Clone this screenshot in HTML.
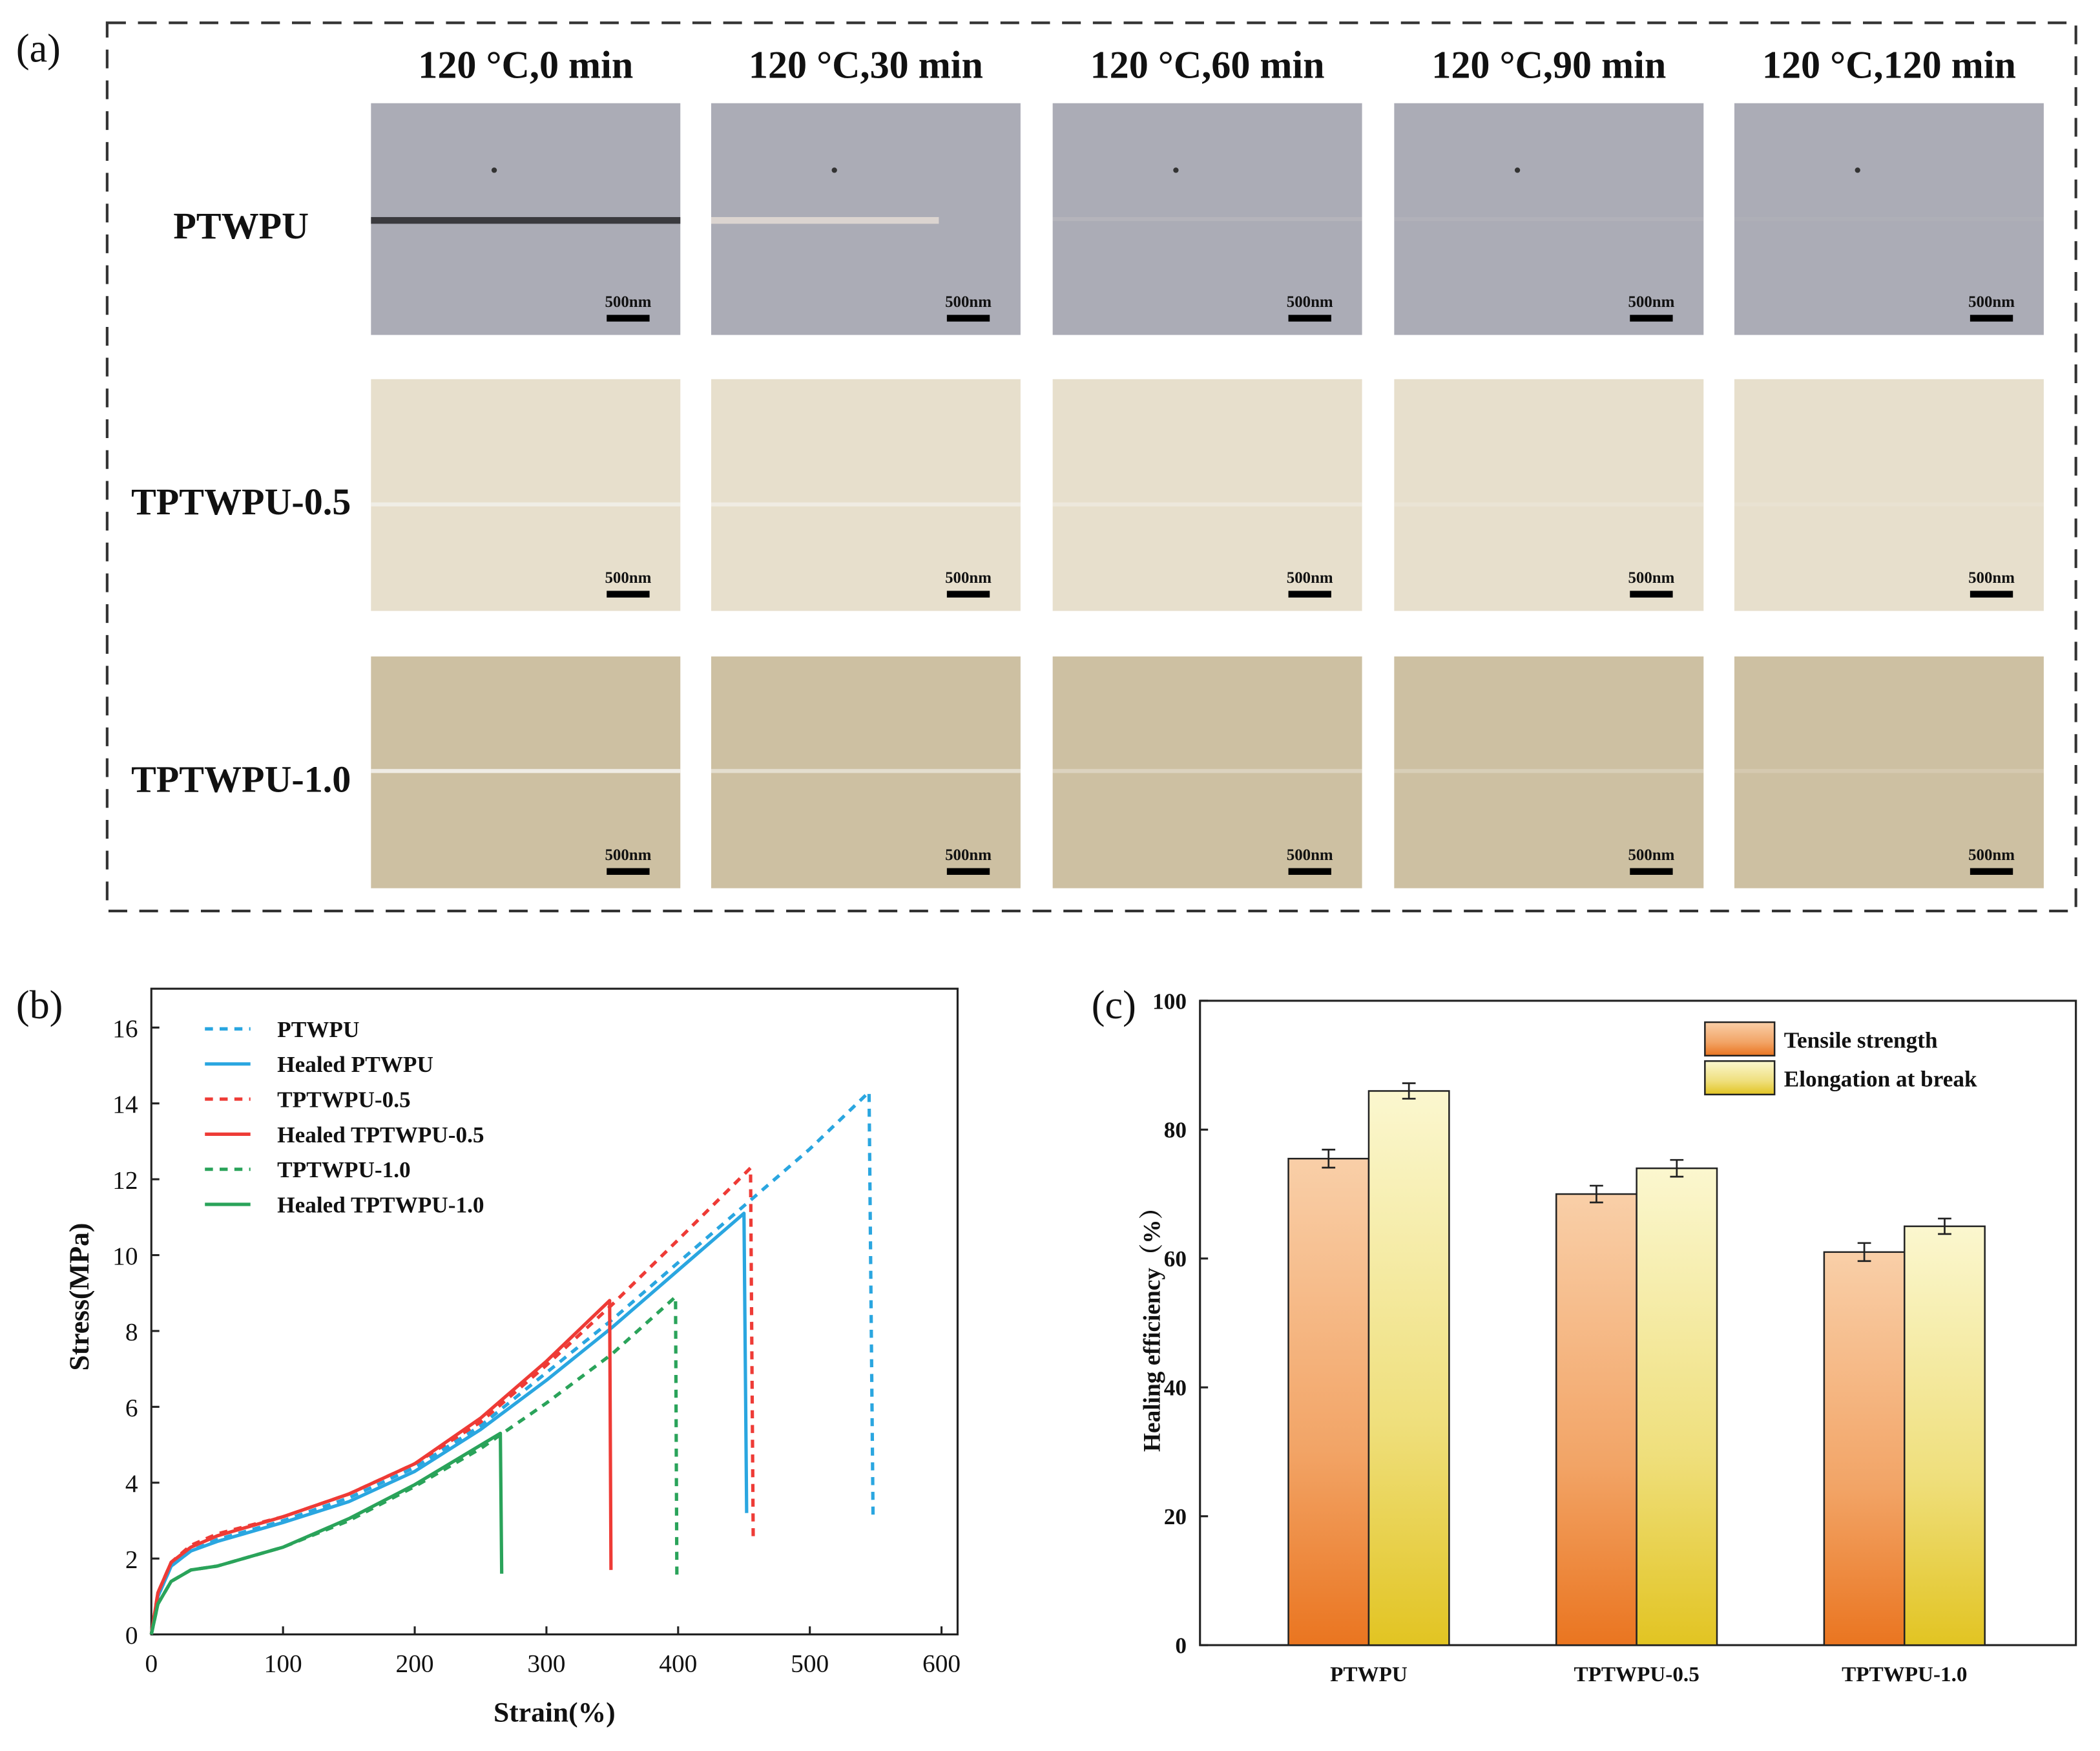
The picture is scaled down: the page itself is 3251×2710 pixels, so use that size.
<!DOCTYPE html>
<html><head><meta charset="utf-8"><style>
html,body{margin:0;padding:0;background:#fff}
svg{display:block}
text{font-family:"Liberation Serif",serif;font-weight:bold;fill:#111}
</style></head><body>
<svg id="fig" width="3251" height="2710" viewBox="0 0 1568 1307" xmlns="http://www.w3.org/2000/svg">
<defs>
<linearGradient id="gOr" x1="0" y1="0" x2="0" y2="1"><stop offset="0" stop-color="#f9cfa8"/><stop offset="0.6" stop-color="#f2a466"/><stop offset="1" stop-color="#ea7520"/></linearGradient>
<linearGradient id="gYe" x1="0" y1="0" x2="0" y2="1"><stop offset="0" stop-color="#fbf7cf"/><stop offset="0.6" stop-color="#efdf7c"/><stop offset="1" stop-color="#e2c422"/></linearGradient>
</defs>
<g id="panelA">
<rect x="80" y="17" width="1470" height="663" fill="none" stroke="#333" stroke-width="2" stroke-dasharray="14,9"/>
<text x="12" y="46" font-size="30" font-weight="normal" style="font-weight:normal">(a)</text>
</g>
<g id="panelB"></g>
<g id="panelC"></g>
</svg>
<script>
const NS="http://www.w3.org/2000/svg";
function mk(parent,tag,attrs,txt){const e=document.createElementNS(NS,tag);for(const k in attrs)e.setAttribute(k,attrs[k]);if(txt!==undefined)e.textContent=txt;parent.appendChild(e);return e;}

// ---------- Panel A ----------
const colHeaders=["120 °C,0 min","120 °C,30 min","120 °C,60 min","120 °C,90 min","120 °C,120 min"];
const rowLabels=["PTWPU","TPTWPU-0.5","TPTWPU-1.0"];
const rowColors=["#abacb6","#e7dfcc","#cdc0a2"];
const crackOpacity=[[1,0.7,0.15,0.1,0.05],[0.8,0.7,0.5,0.3,0.2],[0.9,0.6,0.4,0.3,0.2]];
const pa=document.getElementById('panelA');
const colX=[277,531,786,1041,1295],rowY=[77,283,490],imgW=231,imgH=173;
colHeaders.forEach((h,i)=>{const t=mk(pa,'text',{x:colX[i]+imgW/2,y:58,'font-size':29,'text-anchor':'middle'},h);

});
rowLabels.forEach((r,j)=>{const t=mk(pa,'text',{x:180,y:rowY[j]+101,'font-size':28,'text-anchor':'middle'},r);


colX.forEach((x,i)=>{const g=mk(pa,'g',{});


mk(g,'rect',{x:x,y:rowY[j],width:imgW,height:imgH,fill:rowColors[j]});
const cy=rowY[j]+(j===0?87:(j===1?94:86));
const cc=j===0?(i===0?'#3a3a3e':'#f0e6dc'):'#f3f1ec';
const len=(j===0&&i===1)?170:imgW;
mk(g,'rect',{x:x,y:cy-2,width:len,height:j===0&&i<2?5:3,fill:cc,opacity:crackOpacity[j][i]});
if(j===0){mk(g,'circle',{cx:x+92,cy:rowY[j]+50,r:2,fill:'#333'});}
mk(g,'text',{x:x+192,y:rowY[j]+152,'font-size':12,'text-anchor':'middle'},'500nm');
mk(g,'rect',{x:x+176,y:rowY[j]+158,width:32,height:5,fill:'#000'});
});});

// ---------- Panel B ----------
const xTicksB=[0,100,200,300,400,500,600];
const yTicksB=[0,2,4,6,8,10,12,14,16];
const seriesNames=["PTWPU","Healed PTWPU","TPTWPU-0.5","Healed TPTWPU-0.5","TPTWPU-1.0","Healed TPTWPU-1.0"];
const s1=[[0,0],[5,1.0],[15,1.8],[30,2.2],[50,2.5],[100,3.0],[150,3.6],[200,4.4],[250,5.5],[300,6.9],[350,8.3],[400,9.8],[450,11.3],[500,12.8],[545,14.3],[548,3.0]];
const s2=[[0,0],[5,1.0],[15,1.8],[30,2.2],[50,2.45],[100,2.95],[150,3.5],[200,4.3],[250,5.4],[300,6.7],[350,8.1],[400,9.6],[450,11.1],[452,3.2]];
const s3=[[0,0],[5,1.1],[15,1.9],[30,2.35],[50,2.65],[100,3.1],[150,3.7],[200,4.5],[250,5.6],[300,7.1],[350,8.7],[400,10.4],[455,12.3],[457,2.5]];
const s4=[[0,0],[5,1.1],[15,1.9],[30,2.3],[50,2.6],[100,3.1],[150,3.7],[200,4.5],[250,5.7],[300,7.2],[348,8.8],[349,1.7]];
const s5=[[0,0],[5,0.8],[15,1.4],[30,1.7],[50,1.8],[100,2.3],[150,3.0],[200,3.9],[250,4.9],[300,6.1],[350,7.4],[398,8.9],[399,1.5]];
const s6=[[0,0],[5,0.8],[15,1.4],[30,1.7],[50,1.8],[100,2.3],[150,3.05],[200,3.95],[265,5.3],[266,1.6]];
const seriesData=[s1,s2,s3,s4,s5,s6];
const seriesColor=["#2aa6e0","#2aa6e0","#ee3b36","#ee3b36","#2aa35a","#2aa35a"];
const seriesDash=["6,5","","6,5","","6,5",""];
const pb=document.getElementById('panelB');
const bx0=113,bx1=715,by0=1220,byTop=738;
const xB=v=>bx0+v*(703-113)/600;
const yB=v=>by0-v*(1220-767)/16;
mk(pb,'text',{x:12,y:760,'font-size':30,style:'font-weight:normal'},'(b)');
const frame=mk(pb,'rect',{x:bx0,y:byTop,width:bx1-bx0,height:by0-byTop,fill:'none',stroke:'#222','stroke-width':1.5});


xTicksB.forEach(v=>{mk(pb,'line',{x1:xB(v),x2:xB(v),y1:by0,y2:by0-6,stroke:'#222','stroke-width':1.5});
const t=mk(pb,'text',{x:xB(v),y:by0+28,'font-size':19,'text-anchor':'middle',style:'font-weight:normal'},String(v));

});
yTicksB.forEach(v=>{mk(pb,'line',{x1:bx0,x2:bx0+6,y1:yB(v),y2:yB(v),stroke:'#222','stroke-width':1.5});
const t=mk(pb,'text',{x:bx0-10,y:yB(v)+7,'font-size':19,'text-anchor':'end',style:'font-weight:normal'},String(v));

});
const xt=mk(pb,'text',{x:414,y:1285,'font-size':21,'text-anchor':'middle'},'Strain(%)');


const yt=mk(pb,'text',{x:66,y:968,'font-size':21,'text-anchor':'middle',transform:'rotate(-90 66 968)'},'Stress(MPa)');


seriesData.forEach((d,i)=>{const p=mk(pb,'polyline',{points:d.map(q=>xB(q[0]).toFixed(1)+','+yB(q[1]).toFixed(1)).join(' '),fill:'none',stroke:seriesColor[i],'stroke-width':2.5,'stroke-dasharray':seriesDash[i],'stroke-linejoin':'round'});


const ly=768+i*26.2;
const l=mk(pb,'line',{x1:153,x2:187,y1:ly,y2:ly,stroke:seriesColor[i],'stroke-width':2.5,'stroke-dasharray':seriesDash[i]});


const t=mk(pb,'text',{x:207,y:ly+6,'font-size':17},seriesNames[i]);

});

// ---------- Panel C ----------
const categories=["PTWPU","TPTWPU-0.5","TPTWPU-1.0"];
const tensile=[75.5,70,61];
const elongation=[86,74,65];
const errT=[1.4,1.3,1.4];
const errE=[1.2,1.3,1.2];
const yTicksC=[0,20,40,60,80,100];
const pc=document.getElementById('panelC');
const cx0=896,cx1=1550,cy0=1228,cyTop=747;
const yC=v=>cy0-v*(cy0-cyTop)/100;
const catX=i=>1022+i*200;
const bw=60;
mk(pc,'text',{x:815,y:760,'font-size':30,style:'font-weight:normal'},'(c)');
const fr=mk(pc,'rect',{x:cx0,y:cyTop,width:cx1-cx0,height:cy0-cyTop,fill:'none',stroke:'#222','stroke-width':1.5});


yTicksC.forEach(v=>{mk(pc,'line',{x1:cx0,x2:cx0+6,y1:yC(v),y2:yC(v),stroke:'#222','stroke-width':1.5});
const t=mk(pc,'text',{x:cx0-10,y:yC(v)+6,'font-size':17,'text-anchor':'end'},String(v));

});
const yt2=mk(pc,'text',{x:866,y:988,'font-size':18,'text-anchor':'middle',transform:'rotate(-90 866 988)',style:'font-family:\"Liberation Serif\",\"Noto Serif CJK SC\",serif'},'Healing efficiency（%）');


categories.forEach((c,i)=>{const cx=catX(i);
mk(pc,'line',{x1:cx,x2:cx,y1:cy0,y2:cy0-6,stroke:'#222','stroke-width':1.5});
const t=mk(pc,'text',{x:cx,y:cy0+27,'font-size':16,'text-anchor':'middle'},c);


const b1=mk(pc,'rect',{x:cx-bw,y:yC(tensile[i]),width:bw,height:cy0-yC(tensile[i]),fill:'url(#gOr)',stroke:'#222','stroke-width':1.2});


const b2=mk(pc,'rect',{x:cx,y:yC(elongation[i]),width:bw,height:cy0-yC(elongation[i]),fill:'url(#gYe)',stroke:'#222','stroke-width':1.2});


[[cx-bw/2,tensile[i],errT[i]],[cx+bw/2,elongation[i],errE[i]]].forEach(e=>{
const g=mk(pc,'g',{stroke:'#222','stroke-width':1.3});


mk(g,'line',{x1:e[0],x2:e[0],y1:yC(e[1]+e[2]),y2:yC(e[1]-e[2])});
mk(g,'line',{x1:e[0]-5,x2:e[0]+5,y1:yC(e[1]+e[2]),y2:yC(e[1]+e[2])});
mk(g,'line',{x1:e[0]-5,x2:e[0]+5,y1:yC(e[1]-e[2]),y2:yC(e[1]-e[2])});});
});
[["url(#gOr)","Tensile strength",763],["url(#gYe)","Elongation at break",792]].forEach(l=>{
const r=mk(pc,'rect',{x:1273,y:l[2],width:52,height:25,fill:l[0],stroke:'#222','stroke-width':1.2});


const t=mk(pc,'text',{x:1332,y:l[2]+19,'font-size':17},l[1]);

});
</script>
</body></html>
